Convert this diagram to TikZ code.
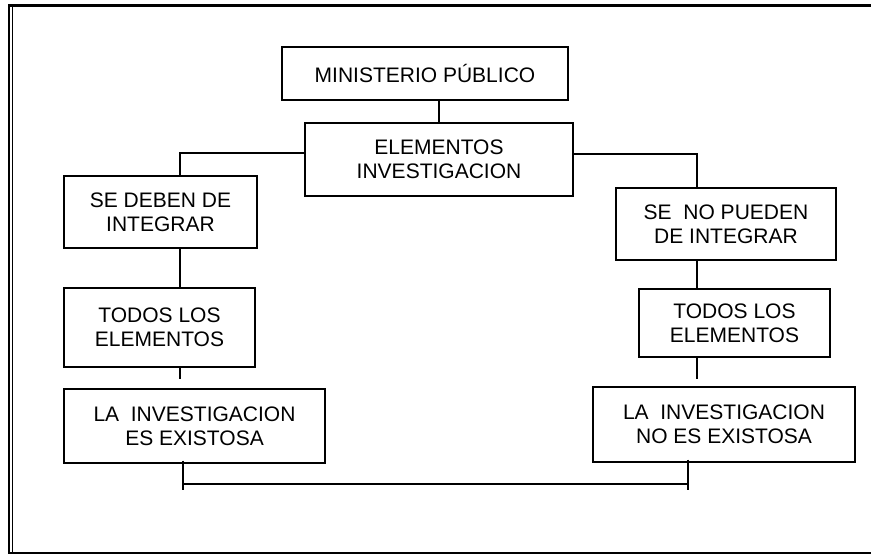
\documentclass[tikz,border=0pt]{standalone}
\usepackage{fontspec}
\setmainfont{Liberation Sans}
\begin{document}
\begin{tikzpicture}[x=1pt,y=-1pt,
  boxnode/.style={draw,line width=1.3pt,inner sep=0pt,align=center,
    font=\fontsize{21}{24}\selectfont},
  link/.style={line width=1.3pt},
  frameline/.style={line width=#1}]
\useasboundingbox (0,0) rectangle (871,557);
% frame
\draw[frameline=3.2pt] (871,5.7) -- (7.9,5.7);
\draw[frameline=2.4pt] (9.2,4.2) -- (9.2,554.3);
\draw[frameline=1.2pt] (12.3,7) -- (12.3,552);
\draw[frameline=2.6pt] (8,553) -- (871,553);
% boxes
\node[boxnode,minimum width=286,minimum height=53] (MP) at (425,73.5) {MINISTERIO PÚBLICO};
\node[boxnode,minimum width=268,minimum height=73] (EI) at (439,159.5) {ELEMENTOS\\INVESTIGACION};
\node[boxnode,minimum width=193,minimum height=72] (SDI) at (160.5,212) {SE DEBEN DE\\INTEGRAR};
\node[boxnode,minimum width=191,minimum height=79] (TLEa) at (159.5,327.5) {TODOS LOS\\ELEMENTOS};
\node[boxnode,minimum width=261,minimum height=74] (LIE) at (194.5,426) {LA\ \ INVESTIGACION\\ES EXISTOSA};
\node[boxnode,minimum width=220,minimum height=72] (SNP) at (726,224) {SE\ \ NO PUEDEN\\DE INTEGRAR};
\node[boxnode,minimum width=191,minimum height=68] (TLEb) at (734.5,323) {TODOS LOS\\ELEMENTOS};
\node[boxnode,minimum width=262,minimum height=75] (LINE) at (724,424.5) {LA\ \ INVESTIGACION\\NO ES EXISTOSA};
% coordinates
\coordinate (lk) at (180,153);
\coordinate (rk) at (697,154);
\coordinate (lstub) at (180,379);
\coordinate (rstub) at (697,379);
\coordinate (bl) at (183,490);
\coordinate (br) at (688,490);
\coordinate (hl) at (183,484);
\coordinate (hr) at (688,484);
% connectors
\draw[link] (EI.north) -- (EI.north |- MP.south);
\draw[link] (EI.west |- lk) -- (lk) -- (lk |- SDI.north);
\draw[link] (EI.east |- rk) -- (rk) -- (rk |- SNP.north);
\draw[link] (lk |- SDI.south) -- (lk |- TLEa.north);
\draw[link] (lk |- TLEa.south) -- (lstub);
\draw[link] (rk |- SNP.south) -- (rk |- TLEb.north);
\draw[link] (rk |- TLEb.south) -- (rstub);
\draw[link] ([yshift=3pt]bl |- LIE.south) -- (bl);
\draw[link] ([yshift=3pt]br |- LINE.south) -- (br);
\draw[link] (hl) -- (hr);
\end{tikzpicture}
\end{document}
